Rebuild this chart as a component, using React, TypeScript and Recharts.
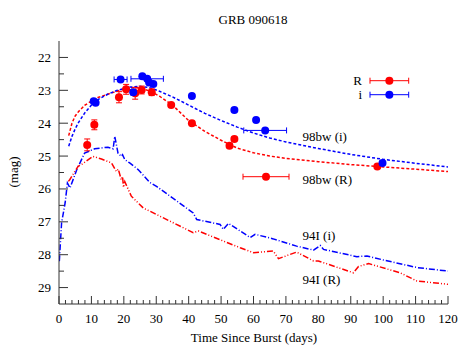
import React from 'react';
import {
  ComposedChart,
  Line,
  Scatter,
  ErrorBar,
  XAxis,
  YAxis,
} from 'recharts';

// observed R band: day, mag, mag error
const rDays = [8.7, 10.9, 18.5, 20.7, 23.5, 25.5, 28.6, 34.6, 41.0, 52.6, 54.1, 98.2];
const rMags = [24.66, 24.05, 23.21, 22.97, 23.09, 22.99, 23.06, 23.45, 24.0, 24.69, 24.48, 25.32];
const rErrs = [0.18, 0.15, 0.17, 0.15, 0.18, 0.12, 0.1, 0.06, 0.05, 0.06, 0.06, 0.05];

// observed i band: day, mag, mag error, day error
const iDays = [10.7, 11.3, 19.0, 22.9, 25.7, 27.2, 27.8, 29.1, 41.0, 54.1, 60.8, 63.6, 99.8];
const iMags = [23.33, 23.38, 22.67, 23.06, 22.57, 22.65, 22.76, 22.81, 23.17, 23.6, 23.9, 24.22, 25.21];
const iErrs = [0.05, 0.05, 0.05, 0.08, 0.05, 0.05, 0.05, 0.05, 0.05, 0.05, 0.05, 0.05, 0.05];
const iDayErrs = [0, 0, 2.0, 0, 0, 5.0, 0, 0, 0, 0, 0, 6.6, 0];

// SN 1998bw templates
const bwDays = [3, 4, 5, 6, 8, 10, 12, 15, 18, 20, 22, 25, 28, 31, 35, 40, 45, 50, 55, 60, 65, 70, 80, 90, 100, 110, 120];
const bwR = [24.38, 24.0, 23.78, 23.65, 23.45, 23.33, 23.22, 23.12, 23.02, 22.96, 22.92, 22.93, 23.02, 23.18, 23.45, 23.92, 24.25, 24.52, 24.76, 24.9, 25.0, 25.07, 25.17, 25.26, 25.33, 25.4, 25.47];
const bwI = [24.7, 24.4, 24.17, 23.98, 23.68, 23.45, 23.28, 23.12, 23.0, 22.95, 22.9, 22.88, 22.92, 23.03, 23.2, 23.45, 23.7, 23.92, 24.12, 24.3, 24.45, 24.57, 24.77, 24.95, 25.1, 25.22, 25.33];

// SN 1994I templates
const s94iDays = [0.1, 0.8, 1.9, 2.6, 3.4, 5.5, 7.9, 11, 15.1, 16.7, 17.2, 18.2, 19.2, 19.6, 20.3, 21.8, 24.4, 28, 30.2, 41.4, 42.5, 49.7, 50.7, 52.3, 55.9, 59, 60.5, 66.1, 73.3, 78.5, 80.6, 81.6, 91.9, 95, 100, 110.4, 120];
const s94iMags = [28.2, 27.03, 26.42, 25.82, 25.97, 25.41, 24.91, 24.78, 24.73, 24.78, 24.4, 24.91, 25.01, 24.96, 25.11, 25.21, 25.41, 25.8, 25.93, 26.73, 26.93, 27.08, 27.23, 27.05, 27.28, 27.48, 27.38, 27.52, 27.74, 27.86, 27.72, 27.84, 28.06, 28.04, 28.16, 28.39, 28.5];
const s94rDays = [2.9, 3.3, 5.9, 6.9, 10.5, 13.1, 16.2, 17.7, 18.3, 19.2, 19.6, 19.9, 20.3, 22.3, 26, 28.1, 29.1, 41.4, 43, 55.9, 60, 66.1, 67.7, 73.3, 78.5, 80, 90.8, 92.4, 95.5, 105.2, 110.4, 120];
const s94rMags = [25.77, 25.72, 25.31, 25.26, 25.01, 25.09, 25.21, 25.47, 25.4, 25.72, 25.62, 25.95, 25.78, 26.22, 26.58, 26.68, 26.73, 27.33, 27.28, 27.79, 27.94, 27.89, 28.12, 27.92, 28.19, 28.19, 28.55, 28.36, 28.27, 28.55, 28.8, 28.9];

const yTicks = [22, 22.5, 23, 23.5, 24, 24.5, 25, 25.5, 26, 26.5, 27, 27.5, 28, 28.5, 29];
const xTicks = Array.from({ length: 61 }, (_, k) => k * 2);

const RED = '#ff0000';
const BLUE = '#0000ff';
const AXIS = '#333';
const FONT = 'Liberation Serif, Times New Roman, serif';
const textStyle = { fontFamily: FONT, fontSize: 13 };

const toCurve = (days: number[], mags: number[]) =>
  days.map((day, k) => ({ day, mag: mags[k] }));

const rData = rDays.map((day, k) => ({ day, mag: rMags[k], err: rErrs[k] }));
const iData = iDays.map((day, k) => ({
  day,
  mag: iMags[k],
  err: iErrs[k],
  xerr: iDayErrs[k],
}));

const BottomTick = (props: any) => {
  const { x, y, payload } = props;
  const major = payload.value % 10 === 0;
  return (
    <g>
      <line x1={x} x2={x} y1={y} y2={y - (major ? 8 : 4)} stroke={AXIS} />
      {major && (
        <text x={x} y={y + 19} textAnchor="middle" style={textStyle} fill="#000">
          {payload.value}
        </text>
      )}
    </g>
  );
};

const TopTick = (props: any) => {
  const { x, y, payload } = props;
  const major = payload.value % 10 === 0;
  return <line x1={x} x2={x} y1={y} y2={y + (major ? 7 : 4)} stroke={AXIS} />;
};

const LeftTick = (props: any) => {
  const { x, y, payload } = props;
  const major = Number.isInteger(payload.value);
  return (
    <g>
      <line x1={x} x2={x + (major ? 9 : 5)} y1={y} y2={y} stroke={AXIS} />
      {major && (
        <text x={x - 8} y={y + 4.5} textAnchor="end" style={textStyle} fill="#000">
          {payload.value}
        </text>
      )}
    </g>
  );
};

const RightTick = (props: any) => {
  const { x, y } = props;
  return <line x1={x} x2={x - 8} y1={y} y2={y} stroke={AXIS} />;
};

const Dot = (color: string) => (p: any) =>
  <circle cx={p.cx} cy={p.cy} r={4} fill={color} />;

const KeyGlyph = ({ x1, x2, y, color }: { x1: number; x2: number; y: number; color: string }) => (
  <g stroke={color} strokeWidth={1}>
    <line x1={x1} x2={x2} y1={y} y2={y} />
    <line x1={x1} x2={x1} y1={y - 3} y2={y + 3} />
    <line x1={x2} x2={x2} y1={y - 3} y2={y + 3} />
    <circle cx={(x1 + x2) / 2} cy={y} r={4} fill={color} stroke="none" />
  </g>
);

const App: React.FC = () => {
  return (
    <div style={{ position: 'absolute', left: 0, top: 0, width: 471, height: 346 }}>
      <ComposedChart width={471} height={346} margin={{ top: 41, right: 23, bottom: 12, left: 9 }}>
        <XAxis
          dataKey="day"
          type="number"
          domain={[0, 120]}
          allowDataOverflow
          ticks={xTicks}
          interval={0}
          tick={<BottomTick />}
          tickLine={false}
          tickSize={0}
          tickMargin={0}
          height={30}
          axisLine={{ stroke: AXIS }}
        />
        <XAxis
          xAxisId="top"
          orientation="top"
          type="number"
          domain={[0, 120]}
          allowDataOverflow
          ticks={xTicks}
          interval={0}
          tick={<TopTick />}
          tickLine={false}
          tickSize={0}
          tickMargin={0}
          height={0}
          axisLine={{ stroke: AXIS }}
        />
        <YAxis
          dataKey="mag"
          type="number"
          domain={[21.5, 29.5]}
          reversed
          allowDataOverflow
          ticks={yTicks}
          interval={0}
          tick={<LeftTick />}
          tickLine={false}
          tickSize={0}
          tickMargin={0}
          width={50}
          axisLine={{ stroke: AXIS }}
        />
        <YAxis
          yAxisId="right"
          orientation="right"
          type="number"
          domain={[21.5, 29.5]}
          reversed
          allowDataOverflow
          ticks={yTicks}
          interval={0}
          tick={<RightTick />}
          tickLine={false}
          tickSize={0}
          tickMargin={0}
          width={0}
          axisLine={{ stroke: AXIS }}
        />
        <Line data={toCurve(bwDays, bwR)} dataKey="mag" stroke={RED} strokeWidth={1.5} strokeDasharray="3 2" dot={false} activeDot={false} isAnimationActive={false} />
        <Line data={toCurve(bwDays, bwI)} dataKey="mag" stroke={BLUE} strokeWidth={1.5} strokeDasharray="3 2" dot={false} activeDot={false} isAnimationActive={false} />
        <Line data={toCurve(s94iDays, s94iMags)} dataKey="mag" stroke={BLUE} strokeWidth={1.5} strokeDasharray="6 2 1 2" dot={false} activeDot={false} isAnimationActive={false} />
        <Line data={toCurve(s94rDays, s94rMags)} dataKey="mag" stroke={RED} strokeWidth={1.5} strokeDasharray="6 2 1 2 1 2" dot={false} activeDot={false} isAnimationActive={false} />
        <Scatter data={rData} dataKey="mag" shape={Dot(RED)} isAnimationActive={false}>
          <ErrorBar dataKey="err" direction="y" width={3} stroke={RED} strokeWidth={1} isAnimationActive={false} />
        </Scatter>
        <Scatter data={iData} dataKey="mag" shape={Dot(BLUE)} isAnimationActive={false}>
          <ErrorBar dataKey="err" direction="y" width={3} stroke={BLUE} strokeWidth={1} isAnimationActive={false} />
          <ErrorBar dataKey="xerr" direction="x" width={3} stroke={BLUE} strokeWidth={1} isAnimationActive={false} />
        </Scatter>
      </ComposedChart>
      <svg
        width={471}
        height={346}
        style={{ position: 'absolute', left: 0, top: 0, pointerEvents: 'none', ...textStyle }}
      >
        <text x={253} y={24} textAnchor="middle">GRB 090618</text>
        <text x={254} y={342} textAnchor="middle">Time Since Burst (days)</text>
        <text x={18} y={172} textAnchor="middle" transform="rotate(-90 18 172)">(mag)</text>
        <text x={362} y={85} textAnchor="end">R</text>
        <KeyGlyph x1={370} x2={408.7} y={80.7} color={RED} />
        <text x={362} y={99} textAnchor="end">i</text>
        <KeyGlyph x1={370} x2={408.7} y={94.7} color={BLUE} />
        <text x={302.5} y={141}>98bw (i)</text>
        <text x={302.5} y={183.5}>98bw (R)</text>
        <KeyGlyph x1={243} x2={289} y={176.7} color={RED} />
        <text x={302.5} y={240}>94I (i)</text>
        <text x={302.5} y={283.5}>94I (R)</text>
      </svg>
    </div>
  );
};

export default App;
